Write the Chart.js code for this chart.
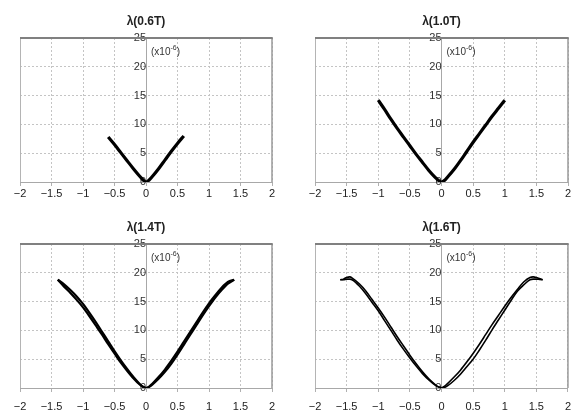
<!DOCTYPE html>
<html>
<head>
<meta charset="utf-8">
<script src="https://cdn.jsdelivr.net/npm/chart.js@4.4.1/dist/chart.umd.min.js"></script>
<style>
  html, body { margin: 0; padding: 0; background: #ffffff; }
  body { width: 579px; height: 412px; position: relative; overflow: hidden; }
  canvas { position: absolute; }
</style>
</head>
<body>
<canvas id="c1" width="290" height="206" style="left:0px;top:0px"></canvas>
<canvas id="c2" width="289" height="206" style="left:290px;top:0px"></canvas>
<canvas id="c3" width="290" height="206" style="left:0px;top:206px"></canvas>
<canvas id="c4" width="289" height="206" style="left:290px;top:206px"></canvas>
<script>
// ---- data ----
const titles = ['λ(0.6T)', 'λ(1.0T)', 'λ(1.4T)', 'λ(1.6T)'];
const xTicks = [-2, -1.5, -1, -0.5, 0, 0.5, 1, 1.5, 2];
const yTicks = [0, 5, 10, 15, 20, 25];
const unitLabel = '(x10';
const unitExp = '-6';

const x06 = [-0.6,-0.5,-0.4,-0.3,-0.2,-0.1,-0.05,0,0.05,0.1,0.2,0.3,0.4,0.5,0.6];
const y06 = [7.8,6.5,5.1,3.7,2.3,1.0,0.4,0,0.35,0.95,2.3,3.8,5.3,6.7,8.0];

const x10 = [-1.0,-0.9,-0.8,-0.7,-0.6,-0.5,-0.4,-0.3,-0.2,-0.1,-0.05,0,0.05,0.1,0.2,0.3,0.4,0.5,0.6,0.7,0.8,0.9,1.0];
const y10 = [14.2,12.6,10.9,9.3,7.8,6.3,4.8,3.4,2.0,0.8,0.3,0,0.3,0.9,2.2,3.7,5.3,6.9,8.4,9.9,11.4,12.8,14.2];

const x14 = [-1.4,-1.3,-1.2,-1.1,-1.0,-0.9,-0.8,-0.7,-0.6,-0.5,-0.4,-0.3,-0.2,-0.1,-0.05,0,0.05,0.1,0.2,0.3,0.4,0.5,0.6,0.7,0.8,0.9,1.0,1.1,1.2,1.3,1.4];
const y14a = [18.8,18.0,17.0,15.9,14.6,13.1,11.5,9.8,8.1,6.4,4.8,3.3,1.9,0.7,0.25,0,0.2,0.6,1.6,2.8,4.2,5.8,7.5,9.2,10.9,12.6,14.2,15.7,17.0,18.1,18.8];
const y14b = [18.8,17.6,16.5,15.3,14.0,12.5,10.9,9.3,7.6,6.0,4.4,3.0,1.7,0.6,0.2,0,0.25,0.75,1.9,3.2,4.7,6.3,8.0,9.7,11.4,13.1,14.7,16.1,17.4,18.4,18.8];

const x16 = [-1.6,-1.55,-1.5,-1.45,-1.4,-1.3,-1.2,-1.1,-1.0,-0.9,-0.8,-0.7,-0.6,-0.5,-0.4,-0.3,-0.2,-0.1,-0.05,0,0.05,0.1,0.2,0.3,0.4,0.5,0.6,0.7,0.8,0.9,1.0,1.1,1.2,1.3,1.4,1.45,1.5,1.55,1.6];
const y16a = [18.8,18.9,19.2,19.3,19.0,18.1,16.9,15.4,13.9,12.3,10.6,8.9,7.3,5.7,4.2,2.8,1.6,0.6,0.2,0,0.1,0.4,1.3,2.4,3.7,5.0,6.6,8.3,10.1,11.8,13.5,15.2,16.8,17.9,18.8,18.9,18.9,18.85,18.8];
const y16b = [18.8,18.8,18.9,18.9,18.7,17.7,16.4,14.9,13.4,11.7,10.0,8.3,6.7,5.2,3.8,2.5,1.4,0.5,0.2,0.05,0.3,0.8,1.9,3.1,4.5,6.0,7.6,9.3,11.0,12.6,14.2,15.7,17.1,18.4,19.2,19.3,19.2,19.0,18.8];

// ---- helpers ----
const FONT = "'Liberation Sans', Arial, sans-serif";
function pts(xs, ys) { return xs.map((x, i) => ({ x: x, y: ys[i] })); }

const framePlugin = {
  id: 'frame',
  beforeDatasetsDraw(chart) {
    const { ctx, chartArea: a } = chart;
    ctx.save();
    ctx.strokeStyle = '#b4b4b4'; ctx.lineWidth = 1;
    ctx.beginPath(); ctx.moveTo(a.left + 0.5, a.top); ctx.lineTo(a.left + 0.5, a.bottom); ctx.stroke();
    ctx.strokeStyle = '#9a9a9a'; ctx.lineWidth = 1.5;
    ctx.beginPath(); ctx.moveTo(a.right, a.top); ctx.lineTo(a.right, a.bottom); ctx.stroke();
    ctx.strokeStyle = '#808080'; ctx.lineWidth = 2;
    ctx.beginPath(); ctx.moveTo(a.left, a.top); ctx.lineTo(a.right + 0.75, a.top); ctx.stroke();
    ctx.restore();
  },
  afterDraw(chart) {
    const { ctx, scales } = chart;
    const x = scales.x.getPixelForValue(0) + 5;
    const y = scales.y.getPixelForValue(22.6);
    ctx.save();
    ctx.fillStyle = '#333';
    ctx.textBaseline = 'middle';
    ctx.font = '10px ' + FONT;
    ctx.fillText(unitLabel, x, y);
    let w = ctx.measureText(unitLabel).width;
    ctx.font = '7px ' + FONT;
    ctx.fillText(unitExp, x + w, y - 4);
    w += ctx.measureText(unitExp).width;
    ctx.font = '10px ' + FONT;
    ctx.fillText(')', x + w, y);
    ctx.restore();
  }
};

function makeChart(id, title, series, lineWidth, padL, padR, tickPad) {
  const datasets = series.map(s => ({
    data: s,
    showLine: true,
    borderColor: '#000',
    borderWidth: lineWidth,
    pointRadius: 0,
    cubicInterpolationMode: 'monotone',
    fill: false
  }));
  return new Chart(document.getElementById(id), {
    type: 'scatter',
    data: { datasets },
    plugins: [framePlugin],
    options: {
      responsive: false,
      animation: false,
      events: [],
      layout: { padding: { left: padL, right: padR, top: 14, bottom: 0 } },
      plugins: {
        legend: { display: false },
        tooltip: { enabled: false },
        title: {
          display: true, text: title, color: '#222',
          font: { family: FONT, size: 12, weight: 'bold' },
          padding: { top: 0, bottom: 9.6 }
        }
      },
      scales: {
        x: {
          type: 'linear', min: -2, max: 2,
          afterBuildTicks: s => { s.ticks = xTicks.map(v => ({ value: v })); },
          afterFit: s => { s.height = 24; },
          grid: { color: '#c4c4c4', lineWidth: 1, tickLength: 4, tickColor: '#b0b0b0' },
          border: { display: true, color: '#a8a8a8', width: 1, dash: [2, 2] },
          ticks: {
            color: '#222', padding: tickPad, maxRotation: 0, autoSkip: false,
            font: { family: FONT, size: 11 },
            callback: v => String(v).replace('-', '\u2212')
          }
        },
        y: {
          type: 'linear', min: 0, max: 25,
          position: { x: 0 },
          afterBuildTicks: s => { s.ticks = yTicks.map(v => ({ value: v })); },
          grid: { color: '#c4c4c4', lineWidth: 1, tickLength: 3, tickColor: '#b0b0b0' },
          border: { display: true, color: '#a8a8a8', width: 1, dash: [2, 2] },
          ticks: {
            color: '#333', padding: 1,
            font: { family: FONT, size: 11 }
          }
        }
      }
    }
  });
}

makeChart('c1', titles[0], [pts(x06, y06)], 3.2, 20, 18, 1);
makeChart('c2', titles[1], [pts(x10, y10)], 3.2, 25, 11, 1);
makeChart('c3', titles[2], [pts(x14, y14a), pts(x14, y14b)], 2.2, 20, 18, 8);
makeChart('c4', titles[3], [pts(x16, y16a), pts(x16, y16b)], 1.6, 25, 11, 8);
</script>
</body>
</html>
